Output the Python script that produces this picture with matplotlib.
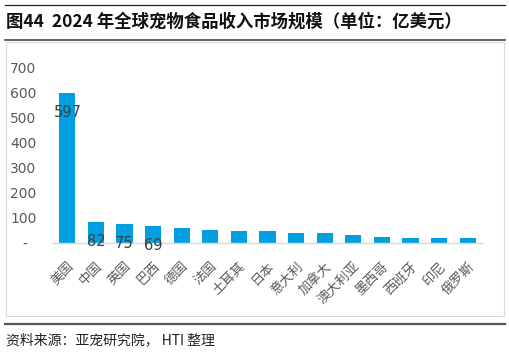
import matplotlib.pyplot as plt
from matplotlib.lines import Line2D
from matplotlib.patches import Rectangle

plt.rcParams['font.family'] = ['Noto Sans CJK SC', 'DejaVu Sans']

# Data
countries = ["美国", "中国", "英国", "巴西", "德国", "法国", "土耳其", "日本",
             "意大利", "加拿大", "澳大利亚", "墨西哥", "西班牙", "印尼", "俄罗斯"]
revenue = [597, 82, 75, 69, 58, 50, 48, 46, 38, 38, 30, 25, 21, 20, 19]
labelled = 4  # only the first few bars carry value labels
yticks = [0, 100, 200, 300, 400, 500, 600, 700]
ytick_labels = ["-  ", "100", "200", "300", "400", "500", "600", "700"]

fig = plt.figure(figsize=(5.1, 3.53), dpi=100)

# Header / footer rules and chart frame
fig.add_artist(Line2D([0.01, 0.99], [1 - 5/353, 1 - 5/353], color="#222222", lw=0.9))
fig.add_artist(Line2D([0.01, 0.99], [1 - 40/353, 1 - 40/353], color="#444444", lw=1.2))
fig.add_artist(Rectangle((0.012, 1 - 316/353), 0.976, (316 - 42)/353, fill=False,
                         edgecolor="#d9d9d9", lw=0.8))
fig.add_artist(Line2D([0.01, 0.99], [1 - 324/353, 1 - 324/353], color="#555555", lw=1.6))

fig.text(0.012, 1 - 22/353, "图44  2024 年全球宠物食品收入市场规模（单位：亿美元）",
         fontsize=12.5, fontweight="bold", va="center", ha="left", color="#111111")
fig.text(0.012, 1 - 340/353, "资料来源：亚宠研究院， HTI 整理",
         fontsize=10, va="center", ha="left", color="#222222")

ax = fig.add_axes([53/510, 1 - 243/353, (482 - 53)/510, (243 - 67)/353])
x = range(len(countries))
bars = ax.bar(x, revenue, width=0.56, color="#00A0E0")

for i in range(labelled):
    ax.annotate(str(revenue[i]), (i, revenue[i]), xytext=(0, -14),
                textcoords="offset points", ha="center", va="center",
                fontsize=10.5, color="#404040", family="DejaVu Sans")

ax.set_ylim(0, 700)
ax.set_xlim(-0.5, len(countries) - 0.5)
ax.set_yticks(yticks)
ax.set_yticklabels(ytick_labels, family="DejaVu Sans")
ax.set_xticks(list(x))
ax.set_xticklabels(countries, rotation=45, ha="right", rotation_mode="anchor",
                   fontsize=9.5, color="#595959")
ax.tick_params(axis="y", length=0, pad=12, labelsize=10, labelcolor="#595959")
ax.tick_params(axis="x", length=0, pad=12)

for side in ["top", "right", "left"]:
    ax.spines[side].set_visible(False)
ax.spines["bottom"].set_color("#d9d9d9")
ax.spines["bottom"].set_linewidth(1.0)

fig.savefig("out.png", dpi=100)
